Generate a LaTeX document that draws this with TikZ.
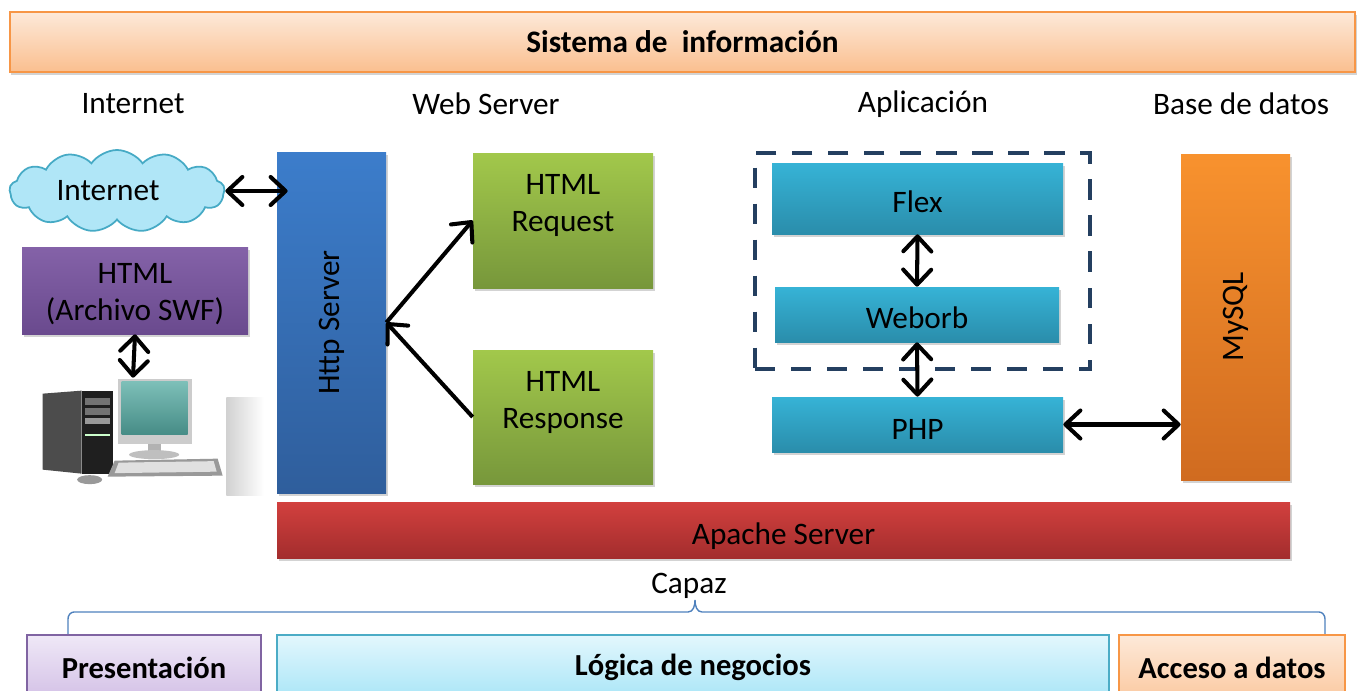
\documentclass[tikz,border=0pt]{standalone}
\usepackage{fontspec}
\setmainfont{Carlito}
\usepackage{tikz}
\usetikzlibrary{arrows.meta, positioning, shapes.symbols, shadows}
\usepackage{xcolor}
\definecolor{titletop}{RGB}{253, 233, 217}
\definecolor{titlebot}{RGB}{250, 191, 143}
\definecolor{orangeedge}{RGB}{247, 150, 70}
\definecolor{cloudfill}{RGB}{176, 230, 247}
\definecolor{cloudedge}{RGB}{70, 170, 197}
\definecolor{purpletop}{RGB}{132, 98, 168}
\definecolor{purplebot}{RGB}{106, 74, 142}
\definecolor{httptop}{RGB}{60, 125, 203}
\definecolor{httpbot}{RGB}{47, 94, 156}
\definecolor{greentop}{RGB}{162, 200, 75}
\definecolor{greenbot}{RGB}{119, 151, 59}
\definecolor{cyantop}{RGB}{54, 179, 214}
\definecolor{cyanbot}{RGB}{42, 141, 171}
\definecolor{sqltop}{RGB}{248, 146, 46}
\definecolor{sqlbot}{RGB}{208, 107, 32}
\definecolor{redtop}{RGB}{210, 64, 62}
\definecolor{redbot}{RGB}{163, 45, 45}
\definecolor{navy}{RGB}{36, 63, 96}
\definecolor{bracecol}{RGB}{79, 129, 189}
\definecolor{prestop}{RGB}{239, 232, 247}
\definecolor{presbot}{RGB}{211, 192, 230}
\definecolor{presedge}{RGB}{128, 100, 162}
\definecolor{logtop}{RGB}{227, 247, 253}
\definecolor{logbot}{RGB}{168, 229, 247}
\definecolor{logedge}{RGB}{75, 172, 198}
\definecolor{acctop}{RGB}{253, 233, 217}
\definecolor{accbot}{RGB}{251, 201, 160}
\definecolor{screentop}{RGB}{125, 191, 184}
\definecolor{screenbot}{RGB}{70, 140, 134}

\begin{document}
\begin{tikzpicture}[
    box/.style={rectangle, align=center, font=\fontsize{17.8}{21}\selectfont,
        drop shadow={opacity=0.35, shadow xshift=0.03, shadow yshift=-0.06}},
    oneline/.style={text height=16pt, text depth=0pt},
    head/.style={font=\fontsize{17.8}{21}\selectfont},
    layer/.style={rectangle, line width=1.1pt, align=center, minimum height=1.3cm, font=\fontsize{17.4}{21}\selectfont\bfseries},
    arrow/.style={-{Straight Barb[length=3mm, width=5.6mm, round]}, line width=2.3pt},
    biarrow/.style={{Straight Barb[length=3mm, width=5.6mm, round]}-{Straight Barb[length=3mm, width=5.6mm, round]}, line width=2.3pt}
]
\useasboundingbox (0,0) rectangle (27.26,-13.8);
\clip (0,0) rectangle (27.26,-13.8);

% Title bar
\node[box, top color=titletop, bottom color=titlebot, draw=orangeedge, line width=1pt, minimum width=26.9cm, minimum height=1.2cm, font=\fontsize{17.8}{21}\selectfont\bfseries] (title) at (13.65,-0.84) {Sistema de\ \ información};

% Column headings
\node[head] (internethead) at (2.66,-2.08) {Internet};
\node[head] (webhead) at (9.72,-2.08) {Web Server};
\node[head] (apphead) at (18.46,-2.08) {Aplicación};
\node[head] (dbhead) at (24.82,-2.08) {Base de datos};

% Client side
\node[cloud, cloud puffs=13, cloud puff arc=110, cloud ignores aspect, draw=cloudedge, fill=cloudfill, line width=1pt, minimum width=4.3cm, minimum height=1.64cm, font=\fontsize{17.8}{21}\selectfont] (cloud) at (2.34,-3.82) {Internet\hspace*{0.36cm}};
\node[box, top color=purpletop, bottom color=purplebot, minimum width=4.52cm, minimum height=1.74cm, text height=34pt, text depth=0pt] (html) at (2.7,-5.81) {HTML\\(Archivo SWF)};
\node[rectangle, fill=white, minimum width=3.72cm, minimum height=2.3cm] (pc) at (2.66,-8.71) {};
\shade[left color=black!18, right color=white] ([yshift=-0.4cm]pc.north east) rectangle ([xshift=0.75cm, yshift=-0.04cm]pc.south east);

% PC drawing
\begin{scope}[shift={(pc.north west)}]
  \fill[black!70] (0.06,-0.32) -- (0.84,-0.26) -- (0.84,-1.92) -- (0.06,-1.84) -- cycle;
  \fill[black!88] (0.84,-0.26) rectangle (1.46,-1.92);
  \fill[black!55] (0.9,-0.4) rectangle (1.4,-0.54);
  \fill[black!55] (0.9,-0.6) rectangle (1.4,-0.74);
  \fill[black!40] (0.9,-0.8) rectangle (1.4,-0.92);
  \fill[white!80!green] (0.9,-1.12) rectangle (1.4,-1.16);
  \fill[black!20] (1.56,-0.02) rectangle (3.04,-1.32);
  \shade[top color=screentop, bottom color=screenbot] (1.64,-0.08) rectangle (2.96,-1.14);
  \fill[black!30] (2.16,-1.32) rectangle (2.42,-1.48);
  \fill[black!25] (2.29,-1.54) ellipse (0.5 and 0.09);
  \fill[black!40] (1.5,-1.66) -- (3.56,-1.62) -- (3.66,-1.96) -- (1.36,-1.98) -- cycle;
  \fill[black!12] (1.58,-1.7) -- (3.48,-1.67) -- (3.54,-1.88) -- (1.5,-1.91) -- cycle;
  \fill[black!40] (1.0,-2.04) ellipse (0.25 and 0.09);
\end{scope}

% Web server
\node[box, top color=httptop, bottom color=httpbot, minimum width=2.18cm, minimum height=6.82cm] (http) at (6.63,-6.45) {\rotatebox{90}{Http Server}};
\node[box, top color=greentop, bottom color=greenbot, minimum width=3.6cm, minimum height=2.7cm, text height=12pt, text depth=0pt] (request) at (11.26,-4.41) {HTML\\Request};
\node[box, top color=greentop, bottom color=greenbot, minimum width=3.6cm, minimum height=2.68cm, text height=13.5pt, text depth=0pt] (response) at (11.26,-8.34) {HTML\\Response};

% Application
\node[rectangle, draw=navy, line width=2.3pt, dash pattern=on 11.5pt off 9pt, minimum width=6.7cm, minimum height=4.32cm] (appgroup) at (18.45,-5.22) {};
\node[box, oneline, top color=cyantop, bottom color=cyanbot, minimum width=5.82cm, minimum height=1.42cm] (flex) at (18.35,-3.97) {Flex};
\node[box, oneline, top color=cyantop, bottom color=cyanbot, minimum width=5.68cm, minimum height=1.1cm] (weborb) at (18.34,-6.29) {Weborb};
\node[box, oneline, top color=cyantop, bottom color=cyanbot, minimum width=5.82cm, minimum height=1.1cm, text height=17.5pt] (php) at (18.35,-8.49) {PHP};

% Database
\node[box, top color=sqltop, bottom color=sqlbot, minimum width=2.18cm, minimum height=6.52cm] (mysql) at (24.71,-6.34) {\rotatebox{90}{MySQL}};

% Apache
\node[box, oneline, top color=redtop, bottom color=redbot, minimum width=20.26cm, minimum height=1.12cm, text height=17pt] (apache) at (15.67,-10.6) {Apache Server};

% Connections
\draw[biarrow, shorten >=-0.22cm] (cloud.east) -- (cloud.east -| http.west);
\draw[biarrow] (html.south) -- (pc.north);
\draw[arrow] (http.east) -- (request.west);
\draw[arrow] (response.west) -- (http.east);
\draw[biarrow] (flex.south) -- (weborb.north);
\draw[biarrow] (weborb.south) -- (php.north);
\draw[biarrow] (php.east) -- (php.east -| mysql.west);

% Layers
\node[head] (capaz) at (13.78,-11.72) {Capaz};
\draw[bracecol, line width=0.8pt] (1.36,-12.7) -- (1.36,-12.38) to[out=90, in=180] (1.48,-12.24) -- (13.76,-12.24)
    to[out=0, in=-90] (13.9,-12.0) to[out=-90, in=180] (14.04,-12.24) -- (26.38,-12.24) to[out=0, in=90] (26.5,-12.38) -- (26.5,-12.7);

\node[layer, top color=prestop, bottom color=presbot, draw=presedge, minimum width=4.68cm] (pres) at (2.88,-13.35) {Presentación};
\node[layer, top color=logtop, bottom color=logbot, draw=logedge, minimum width=16.64cm] (logic) at (13.86,-13.35) {Lógica de negocios};
\node[layer, top color=acctop, bottom color=accbot, draw=orangeedge, minimum width=4.52cm] (access) at (24.64,-13.35) {Acceso a datos};

\end{tikzpicture}
\end{document}
